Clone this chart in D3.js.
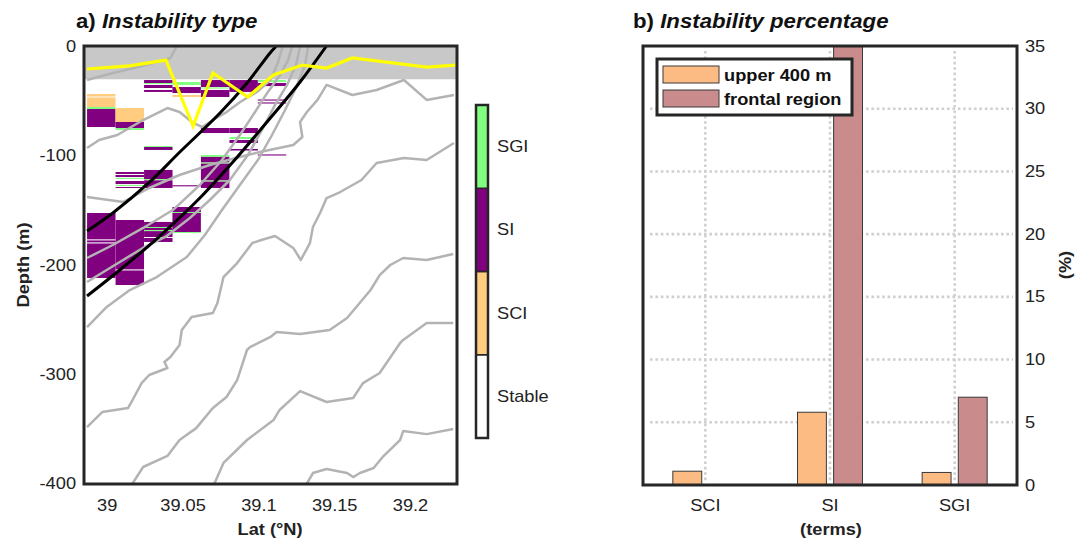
<!DOCTYPE html>
<html>
<head>
<meta charset="utf-8">
<script src="https://cdn.jsdelivr.net/npm/d3@7"></script>
<style>
  body { margin: 0; background: #fff; }
  svg { font-family: "Liberation Sans", Arial, sans-serif; }
</style>
</head>
<body>
<svg id="chart" width="1088" height="542"></svg>
<script>
// ---- panel a data (lat in deg N, depth in m) ----
var stationLat = [38.9964, 39.0152, 39.0340, 39.0527, 39.0715, 39.0903, 39.1090];
var stationWidth = 0.01876;
var typeNames = ["Stable", "SCI", "SI", "SGI"];
var typeColors = ["#ffffff", "#ffcc80", "#800080", "#80ff80"];

// [station, top depth, bottom depth, type]
var cells = [
  [0, 43.5, 45.8, 1], [0, 46.6, 55.4, 1], [0, 55.4, 57.2, 3], [0, 57.2, 73.7, 2],
  [0, 152.4, 176.5, 2], [0, 177.5, 179.3, 2], [0, 180.3, 211.9, 2],
  [1, 56.3, 69.1, 1], [1, 69.1, 74.6, 2], [1, 74.6, 76.4, 3],
  [1, 114.9, 116.7, 2], [1, 117.6, 119.5, 2], [1, 120.4, 121.3, 3], [1, 123.1, 125.9, 2],
  [1, 126.8, 127.7, 3], [1, 128.6, 129.5, 2],
  [1, 158.8, 204.0, 2], [1, 205.0, 218.3, 2],
  [2, 30.7, 33.4, 2], [2, 33.4, 34.3, 3], [2, 35.2, 38.0, 2], [2, 39.8, 41.6, 2],
  [2, 91.1, 92.0, 3], [2, 92.0, 94.7, 2],
  [2, 113.0, 121.5, 2], [2, 121.5, 122.5, 3], [2, 122.5, 129.5, 2],
  [2, 160.6, 165.2, 2], [2, 165.2, 166.1, 3], [2, 166.1, 168.0, 2], [2, 168.0, 169.0, 3],
  [2, 169.0, 174.4, 2], [2, 175.3, 178.9, 2],
  [3, 32.5, 35.2, 3], [3, 37.1, 42.6, 2], [3, 44.4, 46.2, 1],
  [3, 127.0, 128.0, 2],
  [3, 146.9, 151.5, 2], [3, 151.5, 152.4, 3], [3, 152.4, 169.8, 2], [3, 169.8, 170.7, 3],
  [4, 30.7, 37.1, 2], [4, 37.5, 38.5, 3], [4, 39.8, 46.2, 2],
  [4, 74.6, 79.2, 2],
  [4, 99.3, 101.1, 3], [4, 101.1, 106.2, 2], [4, 106.2, 107.2, 3], [4, 107.2, 122.7, 2],
  [4, 122.7, 123.7, 3], [4, 123.7, 129.5, 2],
  [5, 30.7, 41.6, 2],
  [5, 74.6, 79.2, 2], [5, 82.8, 84.7, 3], [5, 85.6, 88.3, 2], [5, 93.8, 95.2, 2],
  [6, 30.7, 32.5, 3], [6, 33.4, 36.2, 2], [6, 48.5, 49.5, 2], [6, 51.2, 52.2, 2], [6, 98.8, 99.8, 2]
];

// density-like contours
var contours = [
  [[38.987,-30.7],[39.004,-24.3],[39.026,-17],[39.042,-10.5],[39.046,0]],
  [[38.987,-92.9],[38.995,-85.6],[39.007,-81],[39.024,-67.3],[39.040,-56.3],[39.048,-60],[39.057,-70],
   [39.063,-73.7],[39.070,-67.3],[39.079,-60],[39.088,-50.8],[39.099,-41.6],[39.108,-30.7],[39.113,-14.2],[39.116,0]],
  [[38.987,-137.8],[39.011,-142.3],[39.028,-129.5],[39.048,-117.6],[39.068,-108.5],[39.085,-102.1],[39.101,-96.6],
   [39.123,-90.2],[39.129,-82.8],[39.1275,-69.1],[39.132,-60],[39.139,-48.9],[39.145,-35.2],[39.162,-44.4],
   [39.178,-39.8],[39.196,-30.7],[39.211,-48.9],[39.229,-44.4]],
  [[38.987,-193.6],[39.004,-181.7],[39.024,-166.1],[39.0436,-149.7],[39.0614,-126.8],[39.076,-103.9],
   [39.0878,-81],[39.0978,-60],[39.1063,-41.6],[39.1143,-26.1],[39.1196,-12.4],[39.1222,0]],
  [[38.987,-215.6],[39.0086,-197.3],[39.0238,-184.4],[39.0396,-173.5],[39.0548,-157],[39.068,-140.5],
   [39.0812,-122.2],[39.0931,-99.3],[39.1024,-76.4],[39.111,-53.5],[39.1189,-35.2],[39.1248,-17],[39.1275,0]],
  [[38.987,-256.8],[39.0,-238.4],[39.0152,-222.9],[39.033,-211],[39.0528,-192.7],[39.0647,-172.5],
   [39.076,-149.7],[39.0878,-126.8],[39.0997,-103.9],[39.109,-81],[39.1176,-58.1],[39.1248,-38],[39.1308,-17],[39.1328,0]],
  [[38.987,-348.3],[38.997,-334.6],[39.014,-330.9],[39.017,-323.6],[39.023,-308.1],[39.028,-300.7],
   [39.040,-294.3],[39.038,-288.8],[39.042,-284.2],[39.048,-273.2],[39.0495,-259.5],[39.056,-247.6],
   [39.070,-243.9],[39.073,-234.8],[39.077,-211],[39.086,-198.2],[39.096,-179.9],[39.102,-177.1],
   [39.111,-173.5],[39.123,-184.4],[39.128,-195.4],[39.134,-179.9],[39.136,-165.2],[39.141,-151.5],
   [39.145,-138.7],[39.154,-133.2],[39.168,-122.2],[39.178,-106.6],[39.196,-102.1],[39.211,-103.9],[39.229,-88.3]],
  [[39.017,-400],[39.024,-384.9],[39.040,-374.8],[39.048,-360.2],[39.059,-349.3],[39.070,-330.9],
   [39.079,-320.8],[39.086,-305.3],[39.0925,-277.8],[39.0945,-275.1],[39.108,-265.9],[39.112,-261.3],
   [39.1275,-263.2],[39.147,-259.5],[39.1585,-248.5],[39.174,-222.9],[39.180,-209.2],[39.187,-200],
   [39.1955,-193.6],[39.211,-195.4],[39.2285,-189.9]],
  [[39.071,-400],[39.077,-381.2],[39.0925,-360.2],[39.110,-341.9],[39.114,-332.7],[39.1275,-315.4],
   [39.145,-325.4],[39.1625,-321.7],[39.169,-308.1],[39.180,-298.9],[39.1935,-271.4],[39.1955,-268.6],
   [39.211,-253.1],[39.2285,-253.1]],
  [[39.132,-400],[39.136,-390.4],[39.145,-386.7],[39.1585,-390.4],[39.1625,-394.1],[39.167,-390.4],
   [39.176,-385.8],[39.182,-375.7],[39.1935,-360.2],[39.1955,-352],[39.211,-354.8],[39.2285,-350.2]]
];

var frontEdge1 = [[38.987,-168.9],[39.004,-152.4],[39.0284,-124],[39.0482,-96.6],[39.0747,-60.9],[39.0925,-33.4],[39.1077,-5.9],[39.1116,0]];
var frontEdge2 = [[38.987,-228.4],[39.0086,-204.6],[39.035,-173.5],[39.0614,-138.7],[39.0832,-105.7],[39.1057,-69.1],[39.1275,-32.5],[39.1447,0]];
var mldLine = [[38.987,-20.6],[39.015,-17.8],[39.039,-12.4],[39.057,-72.8],[39.070,-24.3],[39.093,-46.2],[39.110,-26.1],[39.129,-17],[39.145,-19.7],[39.162,-10.5],[39.211,-18.8],[39.230,-17]];
var maskDepth = 30;
var latTicks = [39, 39.05, 39.1, 39.15, 39.2];
var depthTicks = [0, -100, -200, -300, -400];

// ---- panel b data ----
var terms = ["SCI", "SI", "SGI"];
var seriesNames = ["upper 400 m", "frontal region"];
var seriesColors = ["#fdbb84", "#c98b8b"];
var upper400 = [1.1, 5.8, 1.0];
var frontal = [0, 36, 7.0];
var pctTicks = [0, 5, 10, 15, 20, 25, 30, 35];

var svg = d3.select("#chart");
var frameColor = "#262626";
var sx = 1.14; // glyphs in the original are a bit wider than Liberation Sans

// text helper: positioned group, stretched horizontally
var label = function(parent, px, py, str, size, opts) {
  opts = opts || {};
  var g = parent.append("g")
    .attr("transform", "translate(" + px + "," + py + ")" + (opts.rotate ? " rotate(" + opts.rotate + ")" : "") + " scale(" + sx + ",1)");
  var t = g.append("text")
    .attr("font-size", size)
    .attr("fill", opts.fill || "#222")
    .attr("text-anchor", opts.anchor || "start")
    .attr("font-weight", opts.bold ? "bold" : "normal");
  if (opts.dy) t.attr("dy", opts.dy);
  t.text(str);
  return t;
};
var styleAxis = function(a) {
  a.select(".domain").remove();
  a.selectAll("text").attr("font-size", 16).attr("fill", "#222")
    .attr("font-family", "Liberation Sans, Arial, sans-serif")
    .attr("transform", "scale(" + sx + ",1)");
};

// ================= panel a =================
var x = d3.scaleLinear().domain([38.985, 39.231]).range([84, 457]);
var y = d3.scaleLinear().domain([0, -400]).range([46.5, 483.5]);

var gA = svg.append("g");
gA.append("defs").append("clipPath").attr("id", "clipA")
  .append("rect").attr("x", 84).attr("y", 46).attr("width", 373).attr("height", 438);

var plotA = gA.append("g").attr("clip-path", "url(#clipA)");

plotA.selectAll("rect.cell")
  .data(cells)
  .enter()
  .append("rect")
  .attr("class", "cell")
  .attr("x", function(d) { return x(stationLat[d[0]] - stationWidth / 2); })
  .attr("width", function(d) { return x(stationLat[d[0]] + stationWidth / 2) - x(stationLat[d[0]] - stationWidth / 2); })
  .attr("y", function(d) { return y(-d[1]); })
  .attr("height", function(d) { return y(-d[2]) - y(-d[1]); })
  .attr("fill", function(d) { return typeColors[d[3]]; });

// surface mask
plotA.append("rect")
  .attr("x", x(38.985)).attr("y", y(0))
  .attr("width", x(39.231) - x(38.985))
  .attr("height", y(-maskDepth) - y(0))
  .attr("fill", "#c8c8c8");

var line = d3.line().x(function(d) { return x(d[0]); }).y(function(d) { return y(d[1]); });
var smooth = d3.line().curve(d3.curveCatmullRom.alpha(0.5))
  .x(function(d) { return x(d[0]); }).y(function(d) { return y(d[1]); });

plotA.selectAll("path.cont")
  .data(contours)
  .enter()
  .append("path")
  .attr("class", "cont")
  .attr("d", line)
  .attr("fill", "none")
  .attr("stroke", "#b3b3b3")
  .attr("stroke-width", 2.5)
  .attr("stroke-linejoin", "round");

[frontEdge1, frontEdge2].forEach(function(edge) {
  plotA.append("path")
    .attr("d", smooth(edge))
    .attr("fill", "none")
    .attr("stroke", "#000")
    .attr("stroke-width", 3);
});

plotA.append("path")
  .attr("d", line(mldLine))
  .attr("fill", "none")
  .attr("stroke", "#ffff00")
  .attr("stroke-width", 3.2)
  .attr("stroke-linejoin", "miter");

gA.append("rect")
  .attr("x", 84).attr("y", 46).attr("width", 373).attr("height", 438)
  .attr("fill", "none").attr("stroke", frameColor).attr("stroke-width", 3);

var axY = gA.append("g").attr("transform", "translate(84,0)")
  .call(d3.axisLeft(y).tickValues(depthTicks).tickSize(0).tickPadding(7).tickFormat(function(d) { return String(d); }));
var axX = gA.append("g").attr("transform", "translate(0,484)")
  .call(d3.axisBottom(x).tickValues(latTicks).tickSize(0).tickPadding(16).tickFormat(function(d) { return String(d); }));
styleAxis(axY);
styleAxis(axX);

label(gA, 270, 535, "Lat (°N)", 16, { anchor: "middle", bold: true });
label(gA, 29, 265, "Depth (m)", 16, { anchor: "middle", bold: true, rotate: -90 });

var tA = label(gA, 76, 28, "", 19.5, { bold: true, fill: "#111" });
tA.append("tspan").text("a) ");
tA.append("tspan").attr("font-style", "italic").text("Instability type");

// colorbar
var cb = d3.scaleBand().domain(typeNames.slice().reverse()).range([105, 438]);
gA.selectAll("rect.cb")
  .data(typeNames)
  .enter()
  .append("rect")
  .attr("class", "cb")
  .attr("x", 476).attr("width", 12)
  .attr("y", function(d) { return cb(d); })
  .attr("height", cb.bandwidth())
  .attr("fill", function(d, i) { return typeColors[i]; })
  .attr("stroke", frameColor).attr("stroke-width", 1.5);
gA.append("rect").attr("x", 476).attr("y", 105).attr("width", 12).attr("height", 333)
  .attr("fill", "none").attr("stroke", frameColor).attr("stroke-width", 2.5);
typeNames.forEach(function(d) {
  label(gA, 497, cb(d) + cb.bandwidth() / 2, d, 16, { dy: "0.35em" });
});

// ================= panel b =================
var xb = d3.scaleBand().domain(terms).range([643, 1017]);
var xs = d3.scaleBand().domain(seriesNames).range([-32.5, 32.5]).paddingInner(0.2);
var yb = d3.scaleLinear().domain([0, 35]).range([485, 46]);

var gB = svg.append("g");
gB.append("defs").append("clipPath").attr("id", "clipB")
  .append("rect").attr("x", 643).attr("y", 46).attr("width", 374).attr("height", 439);

var grid = gB.append("g");
grid.selectAll("line.h")
  .data(pctTicks.slice(1, -1))
  .enter()
  .append("line")
  .attr("x1", 650).attr("x2", 1013)
  .attr("y1", function(d) { return yb(d); }).attr("y2", function(d) { return yb(d); })
  .attr("stroke", "#d0d0d0").attr("stroke-width", 2.6).attr("stroke-dasharray", "2.6,2.8");
grid.selectAll("line.v")
  .data(terms)
  .enter()
  .append("line")
  .attr("x1", function(d) { return xb(d) + xb.bandwidth() / 2; })
  .attr("x2", function(d) { return xb(d) + xb.bandwidth() / 2; })
  .attr("y1", 51).attr("y2", 482)
  .attr("stroke", "#d0d0d0").attr("stroke-width", 2.6).attr("stroke-dasharray", "2.6,2.8");

var barData = [];
terms.forEach(function(t, i) {
  barData.push({ term: t, s: seriesNames[0], v: upper400[i], c: seriesColors[0] });
  barData.push({ term: t, s: seriesNames[1], v: frontal[i], c: seriesColors[1] });
});

gB.append("g").attr("clip-path", "url(#clipB)")
  .selectAll("rect")
  .data(barData.filter(function(d) { return d.v > 0; }))
  .enter()
  .append("rect")
  .attr("x", function(d) { return xb(d.term) + xb.bandwidth() / 2 + xs(d.s); })
  .attr("width", xs.bandwidth())
  .attr("y", function(d) { return yb(d.v); })
  .attr("height", function(d) { return yb(0) - yb(d.v); })
  .attr("fill", function(d) { return d.c; })
  .attr("stroke", "#3a3a3a").attr("stroke-width", 1);

gB.append("rect")
  .attr("x", 643).attr("y", 46).attr("width", 374).attr("height", 439)
  .attr("fill", "none").attr("stroke", frameColor).attr("stroke-width", 3);

var axYb = gB.append("g").attr("transform", "translate(1017,0)")
  .call(d3.axisRight(yb).tickValues(pctTicks).tickSize(0).tickPadding(7).tickFormat(function(d) { return String(d); }));
var axXb = gB.append("g").attr("transform", "translate(0,485)")
  .call(d3.axisBottom(xb).tickSize(0).tickPadding(15));
styleAxis(axYb);
styleAxis(axXb);

label(gB, 831, 535, "(terms)", 16, { anchor: "middle", bold: true });
label(gB, 1071, 265, "(%)", 16, { anchor: "middle", bold: true, rotate: -90 });

var tB = label(gB, 633, 28, "", 19.5, { bold: true, fill: "#111" });
tB.append("tspan").text("b) ");
tB.append("tspan").attr("font-style", "italic").text("Instability percentage");

// legend
var lg = gB.append("g");
lg.append("rect").attr("x", 657).attr("y", 59).attr("width", 195).attr("height", 56)
  .attr("fill", "#fff").attr("stroke", frameColor).attr("stroke-width", 3);
seriesNames.forEach(function(s, i) {
  lg.append("rect").attr("x", 663).attr("y", 66 + i * 24).attr("width", 56).attr("height", 17)
    .attr("fill", seriesColors[i]).attr("stroke", "#3a3a3a").attr("stroke-width", 1);
  label(lg, 724, 75 + i * 24, s, 16, { bold: true, fill: "#111", dy: "0.35em" });
});
</script>
</body>
</html>
